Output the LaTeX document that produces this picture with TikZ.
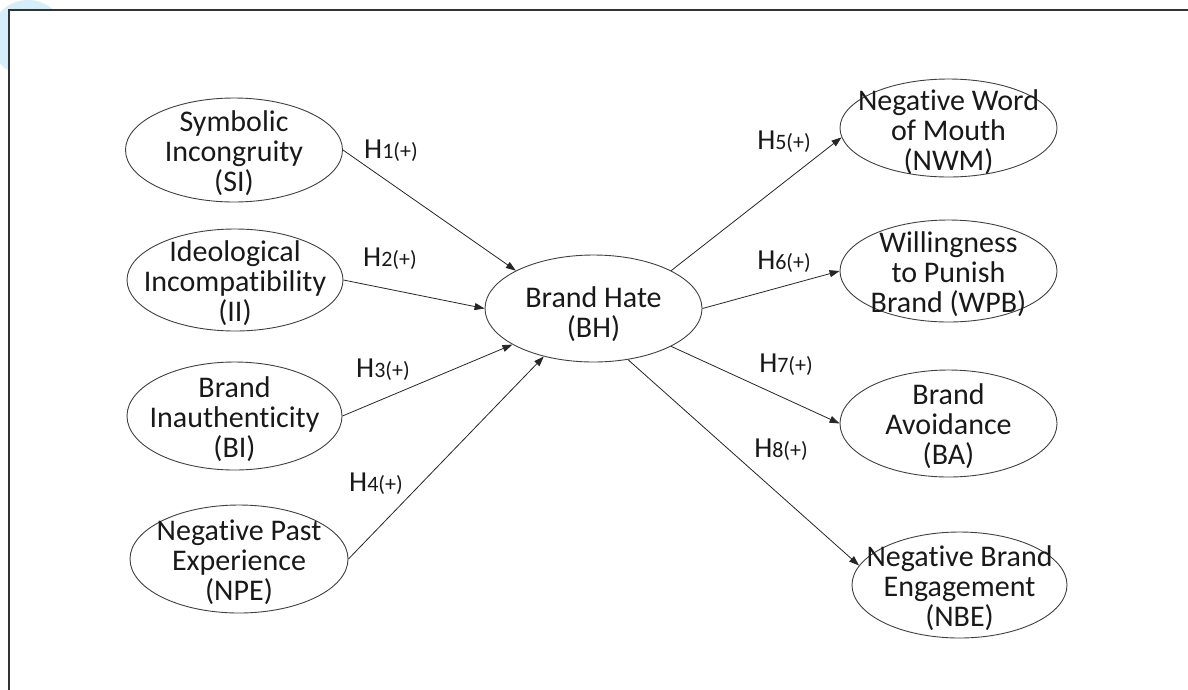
\documentclass[tikz,border=0pt]{standalone}
\usepackage{fontspec}
\setmainfont{Carlito}[Ligatures={NoCommon,NoRare,NoContextual}]
\usetikzlibrary{shapes.geometric,arrows.meta}
\definecolor{wmblue}{HTML}{D6EEFA}
\begin{document}
\begin{tikzpicture}[x=1pt,y=-1pt,
  latent/.style={ellipse,draw=black!75,line width=0.9pt,inner sep=0pt},
  lbl/.style={align=center,font=\fontsize{30}{30}\selectfont,inner sep=0pt,text=black!90},
  hyp/.style={inner sep=0pt,font=\fontsize{29}{30}\selectfont,text=black!90},
  link/.style={draw=black!85,line width=0.8pt,-{Triangle[length=10pt,width=7pt]}}]
\useasboundingbox (0,0) rectangle (1188,689);
\begin{scope}
  \clip (0,0) rectangle (1188,689);
  \fill[wmblue] (28,38) circle (38);
  \fill[white] (9,10) rectangle (1200,700);
  \draw[black!80,line width=1.6pt] (9,700) -- (9,10) -- (1200,10);
\end{scope}
% left constructs
\node[latent,minimum width=217pt,minimum height=104pt] (si) at (234,150) {};
\node[latent,minimum width=216pt,minimum height=102pt] (ii) at (235,280) {};
\node[latent,minimum width=215pt,minimum height=108pt] (bi) at (234.5,416) {};
\node[latent,minimum width=218pt,minimum height=108pt] (npe) at (239,559) {};
% centre
\node[latent,minimum width=217pt,minimum height=107pt] (bh) at (593.5,308.5) {};
% right constructs
\node[latent,minimum width=217pt,minimum height=98pt] (nwm) at (948.5,128) {};
\node[latent,minimum width=217pt,minimum height=102pt] (wpb) at (948.5,271) {};
\node[latent,minimum width=217pt,minimum height=107pt] (ba) at (948.5,423.5) {};
\node[latent,minimum width=215pt,minimum height=106pt] (nbe) at (959.5,585) {};
% texts
\node[lbl] (tsi) at ([yshift=-3pt]si.center) {Symbolic\\Incongruity\\(SI)};
\node[lbl] (tii) at ([yshift=-3pt]ii.center) {Ideological\\Incompatibility\\(II)};
\node[lbl] (tbi) at ([yshift=-3pt]bi.center) {Brand\\Inauthenticity\\(BI)};
\node[lbl] (tnpe) at ([yshift=-3pt]npe.center) {Negative Past\\Experience\\(NPE)};
\node[lbl] (tbh) at ([yshift=-6pt]bh.center) {Brand Hate\\(BH)};
\node[lbl] (tnwm) at ([yshift=-4pt]nwm.center) {Negative Word\\of Mouth\\(NWM)};
\node[lbl] (twpb) at ([yshift=-3pt]wpb.center) {Willingness\\to Punish\\Brand (WPB)};
\node[lbl] (tba) at ([yshift=-3pt]ba.center) {Brand\\Avoidance\\(BA)};
\node[lbl] (tnbe) at ([yshift=-3pt]nbe.center) {Negative Brand\\Engagement\\(NBE)};
% hypothesis labels
\newcommand{\hlab}[1]{H{\fontsize{22}{24}\selectfont #1(+)}}
\node[hyp] (h1) at (391,151) {\hlab{1}};
\node[hyp] (h2) at (390,259) {\hlab{2}};
\node[hyp] (h3) at (383,370) {\hlab{3}};
\node[hyp] (h4) at (376,484) {\hlab{4}};
\node[hyp] (h5) at (784,142) {\hlab{5}};
\node[hyp] (h6) at (784,262) {\hlab{6}};
\node[hyp] (h7) at (786,365) {\hlab{7}};
\node[hyp] (h8) at (781,450) {\hlab{8}};
% paths
\draw[link] (si.east) -- (bh.154);
\draw[link] (ii.east) -- (bh.west);
\draw[link] (bi.east) -- (bh.204);
\draw[link] (npe.east) -- (bh.224);
\draw[link] (bh.26) -- (nwm.185);
\draw[link] (bh.east) -- (wpb.west);
\draw[link] (bh.334) -- (ba.west);
\draw[link] (bh.304) -- (nbe.169);
\end{tikzpicture}
\end{document}
